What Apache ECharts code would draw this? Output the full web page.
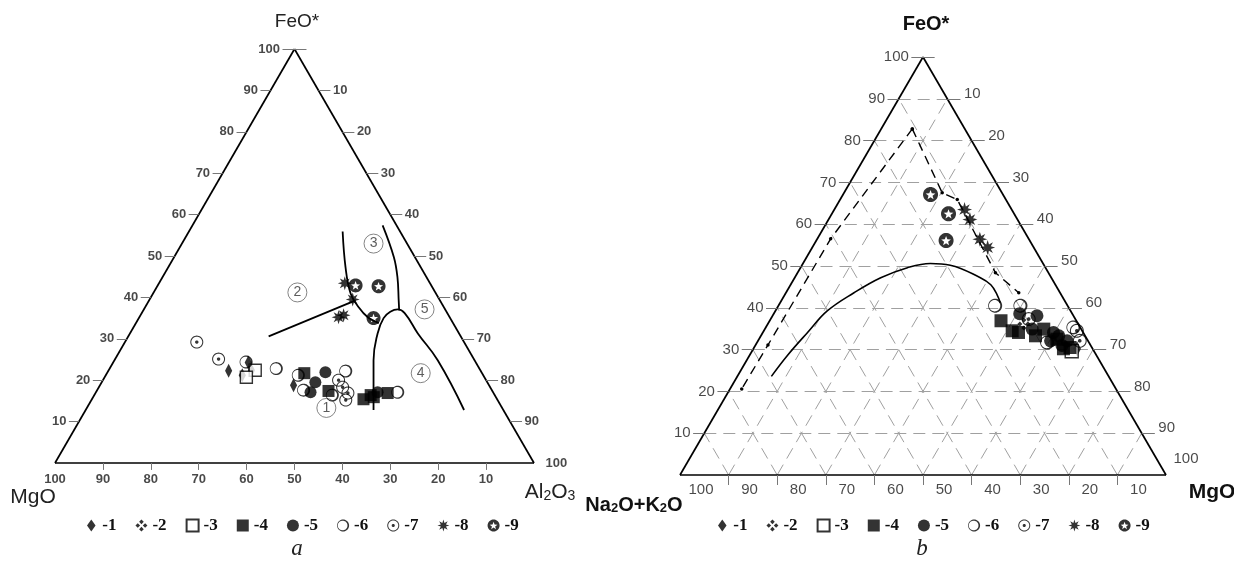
<!DOCTYPE html>
<html><head><meta charset="utf-8">
<script src="https://cdn.jsdelivr.net/npm/echarts@6/dist/echarts.min.js"></script>
<style>html,body{margin:0;padding:0;background:#fff}#c{width:1234px;height:562px}</style>
</head><body><div id="c"></div>
<script>
// ===== Diagram a : FeO* (top) – MgO (left) – Al2O3 (right); points as [FeO*, Al2O3] (MgO = rest)
const aNames = ['-1','-2','-3','-4','-5','-6','-7','-8','-9'];
const aT1 = [[22.3,25.1],[24.3,28.2],[21.2,28.5],[22.4,29.8],[18.8,40.4]];
const aT3 = [[22.4,30.6],[20.7,29.6]];
const aT4 = [[21.7,41.2],[17.4,48.4],[15.4,56.7],[16.4,57.7],[16.9,61.0],[15.9,58.6]];
const aT5 = [[21.9,45.5],[19.5,44.6],[17.1,44.8],[17.1,58.8]];
const aT6 = [[24.4,27.7],[22.8,34.8],[21.2,40.2],[22.2,49.6],[17.6,43.1],[16.4,49.7],[17.1,63.0]];
const aT7 = [[29.2,15.0],[25.1,21.6],[20.0,49.2],[18.3,50.9],[16.9,52.7],[15.2,53.1]];
const aT8 = [[43.4,38.8],[39.5,42.4],[35.2,41.6],[35.7,42.4]];
const aT9 = [[42.9,41.3],[42.7,46.2],[35.0,49.0]];
const aZones = [[13.3,50.0,'1'],[41.2,30.0,'2'],[53.0,40.0,'3'],[21.7,65.5,'4'],[37.1,58.6,'5']];
const aLine1 = [[30.6,29.3],[39.3,43.1]];
const aCurve1 = [[55.9,32.1],[47.3,37.0],[41.0,41.2],[37.6,44.6],[35.2,47.7],[33.8,50.7]];
const aCurve2 = [[57.4,39.7],[49.7,45.9],[44.8,49.1],[39.3,52.1],[36.9,53.4]];
const aArch = [[12.8,60.1],[24.8,54.1],[31.3,51.7],[35.0,51.1],[36.6,51.8],[37.1,53.0],[36.2,54.9],[31.3,60.1],[24.8,67.5],[12.8,79.0]];

// ===== Diagram b : FeO* (top) – Na2O+K2O (left) – MgO (right); points as [FeO*, MgO]
const bT1 = [[30.2,66.6]];
const bT2 = [[36.1,52.7]];
const bT3 = [[29.6,65.8]];
const bT4 = [[36.9,47.6],[34.5,51.1],[34.1,52.6],[34.9,57.4],[33.3,56.5],[30.2,63.8],[30.5,65.0],[32.5,61.3]];
const bT5 = [[38.6,50.6],[38.1,54.4],[34.9,55.0],[34.1,59.8],[32.1,60.2],[33.3,61.3],[32.1,63.6],[31.0,63.1]];
const bT6 = [[40.5,44.6],[40.5,49.8],[31.7,59.7],[35.3,63.3]];
const bT7 = [[37.3,53.1],[34.5,64.4],[32.1,66.2]];
const bT8 = [[63.5,26.8],[61.1,29.1],[56.4,33.5],[54.4,36.1]];
const bT9 = [[67.1,18.0],[62.5,24.0],[56.1,26.7]];
const bDashL = [[82.8,6.4],[56.5,2.75],[31.1,2.55],[20.6,2.4]];
const bDashR = [[82.8,6.4],[67.5,20.2],[65.9,24.1],[48.4,40.7],[43.6,47.9]];
const bCurve = [[23.6,7.0],[28.6,7.8],[34.1,9.2],[39.3,10.7],[43.6,14.0],[47.2,17.7],[49.6,22.0],[50.6,26.2],[50.2,30.5],[47.2,38.2],[45.5,41.2],[43.1,43.7],[41.2,45.3]];

const ticks = [10,20,30,40,50,60,70,80,90];
const bottomLabels = [100,90,80,70,60,50,40,30,20,10];

// ---------- helpers ----------
const S = Math.sqrt(3)/2;
const tern = (F, R) => [R + F/2, F*S];
function poly(p){return 'M'+p.map(q=>q[0].toFixed(2)+' '+q[1].toFixed(2)).join(' L')+' Z ';}
function circ(cx,cy,r,rev){const p=[];for(let i=0;i<40;i++){const t=(rev?-1:1)*i/40*2*Math.PI;p.push([cx+r*Math.cos(t),cy+r*Math.sin(t)]);}return poly(p);}
function star(cx,cy,R,r,n,rev){const p=[];for(let i=0;i<2*n;i++){const t=(rev?-1:1)*i*Math.PI/n-Math.PI/2;const rr=i%2?r:R;p.push([cx+rr*Math.cos(t),cy+rr*Math.sin(t)]);}return poly(p);}
function dia(cx,cy,h){return poly([[cx,cy-h],[cx+h,cy],[cx,cy+h],[cx-h,cy]]);}
const SYM = {
  '-1':'path://M5 0 L10 7 L5 14 L0 7 Z',
  '-2':'path://'+dia(10,4,3.8)+dia(16,10,3.8)+dia(10,16,3.8)+dia(4,10,3.8),
  '-3':'rect','-4':'rect','-5':'circle',
  '-6':'path://'+circ(10,10,10,false)+circ(9.2,10,8.1,true),
  '-7':'path://'+circ(10,10,10,false)+circ(10,10,8.4,true)+circ(10,10,2.6,false),
  '-8':'path://'+star(10,10,10,4.6,8,false),
  '-9':'path://'+circ(10,10,10,false)+star(10,10.7,6.8,2.8,5,true)
};
const COL = {'-3':{color:'#fff',borderColor:'#000',borderWidth:1.4}};
const SZ_A = {'-1':[10,14],'-2':12,'-3':12,'-4':12,'-5':12,'-6':13,'-7':13,'-8':14,'-9':14};
const SZ_B = {'-1':[11,15],'-2':13,'-3':13,'-4':13,'-5':13,'-6':14,'-7':14,'-8':15,'-9':15};

const series = [];
function segs(g, list, style, z){
  series.push({type:'lines',coordinateSystem:'cartesian2d',xAxisIndex:g,yAxisIndex:g,clip:false,silent:true,z:z||1,
    lineStyle:Object.assign({opacity:1},style),data:list.map(c=>({coords:c}))});
}
function curve(g, pts, style, smooth, dots){
  series.push({type:'line',xAxisIndex:g,yAxisIndex:g,clip:false,silent:true,z:3,smooth:smooth,
    symbol:dots?'circle':'none',symbolSize:3.5,showSymbol:!!dots,itemStyle:{color:'#000'},
    lineStyle:style,data:pts.map(p=>tern(p[0],p[1]))});
}
function labels(g, pts, lab){
  series.push({type:'scatter',xAxisIndex:g,yAxisIndex:g,clip:false,silent:true,z:4,symbolSize:1,
    itemStyle:{color:'rgba(0,0,0,0)'},data:pts,
    label:Object.assign({show:true,formatter:p=>String(p.value[2])},lab)});
}
function points(g, name, arr, sizes){
  series.push({type:'scatter',name:name,xAxisIndex:g,yAxisIndex:g,clip:false,z:6,
    symbol:SYM[name],symbolSize:sizes[name],symbolKeepAspect:true,
    itemStyle:COL[name]||{color:'#000'},data:arr.map(p=>tern(p[0],p[1]))});
}

// ---------- diagram a ----------
const tickA = {color:'#777',width:1};
const fontA = {fontFamily:'Liberation Sans, Arial, sans-serif',fontWeight:'bold',fontSize:13,color:'#1a1a1a'};
segs(0,[[tern(100,0),tern(0,0)],[tern(0,0),tern(0,100)],[tern(0,100),tern(100,0)]],{color:'#000',width:1.7},2);
const aTk=[], aL=[], aR=[], aB=[];
ticks.forEach(F=>{const p=tern(F,0);aTk.push([[p[0]-2.1,p[1]],p]);aL.push([p[0]-2.1,p[1],F]);});
ticks.forEach(F=>{const p=tern(F,100-F);aTk.push([p,[p[0]+2.5,p[1]]]);aR.push([p[0]+2.5,p[1],100-F]);});
{const p=tern(100,0);aTk.push([[p[0]-2.5,p[1]],[p[0]+2.5,p[1]]]);aL.push([p[0]-2.5,p[1],100]);}
ticks.forEach(R=>{aTk.push([[R,0],[R,-1.45]]);});
bottomLabels.forEach(v=>aB.push([100-v,0,v]));
segs(0,aTk,tickA,2);
labels(0,aL,Object.assign({position:'left',distance:2},fontA));
labels(0,aR,Object.assign({position:'right',distance:2},fontA));
labels(0,[[100,0,100]],Object.assign({position:'right',distance:11},fontA));
labels(0,aB,Object.assign({position:'bottom',distance:9},fontA));
const lineA={color:'#000',width:1.8};
curve(0,aLine1,lineA,false);
curve(0,aCurve1,lineA,0.4);
curve(0,aCurve2,lineA,0.4);
curve(0,aArch,lineA,0.45);
series.push({type:'scatter',xAxisIndex:0,yAxisIndex:0,clip:false,silent:true,z:5,symbol:'circle',symbolSize:19,
  itemStyle:{color:'#fff',borderColor:'#666',borderWidth:1},data:aZones.map(z=>tern(z[0],z[1]).concat([z[2]])),
  label:{show:true,position:'inside',formatter:p=>p.value[2],fontFamily:'Liberation Sans, Arial',fontSize:14,color:'#333'}});
[['-1',aT1],['-3',aT3],['-4',aT4],['-5',aT5],['-6',aT6],['-7',aT7],['-8',aT8],['-9',aT9]].forEach(([n,d])=>points(0,n,d,SZ_A));

// ---------- diagram b ----------
const gridB = [];
ticks.forEach(k=>{
  gridB.push([tern(k,0),tern(k,100-k)]);
  gridB.push([tern(0,k),tern(100-k,k)]);
  gridB.push([tern(0,100-k),tern(100-k,0)]);
});
segs(1,gridB,{color:'#a0a0a0',width:1,type:[12,7]},1);
segs(1,[[tern(100,0),tern(0,0)],[tern(0,0),tern(0,100)],[tern(0,100),tern(100,0)]],{color:'#000',width:1.7},2);
const fontB = {fontFamily:'Liberation Sans, Arial, sans-serif',fontSize:15,color:'#1a1a1a'};
const bTk=[], bL=[], bR=[], bB=[];
ticks.forEach(F=>{const p=tern(F,0);bTk.push([[p[0]-2.3,p[1]],p]);bL.push([p[0]-2.3,p[1],F]);});
ticks.forEach(F=>{const p=tern(F,100-F);bTk.push([p,[p[0]+2.7,p[1]]]);bR.push([p[0]+2.7,p[1],100-F]);});
{const p=tern(100,0);bTk.push([[p[0]-2.4,p[1]],[p[0]+2.4,p[1]]]);bL.push([p[0]-2.4,p[1],100]);}
ticks.forEach(R=>{bTk.push([[R,0],[R,-2.07]]);});
bottomLabels.forEach(v=>bB.push([100-v,0,v]));
segs(1,bTk,{color:'#777',width:1},2);
labels(1,bL,Object.assign({position:'left',distance:2},fontB));
labels(1,bR,Object.assign({position:'right',distance:3,offset:[0,-5]},fontB));
labels(1,[[100,0,100]],Object.assign({position:'right',distance:7,offset:[0,-16]},fontB));
labels(1,bB,Object.assign({position:'bottom',distance:7,offset:[21,0]},fontB));
curve(1,bDashL,{color:'#000',width:1.4,type:[9,6]},false,true);
curve(1,bDashR,{color:'#000',width:1.4,type:[9,6]},false,true);
curve(1,bCurve,{color:'#000',width:1.6},0.4);
[['-1',bT1],['-2',bT2],['-3',bT3],['-4',bT4],['-5',bT5],['-6',bT6],['-7',bT7],['-8',bT8],['-9',bT9]].forEach(([n,d])=>points(1,n,d,SZ_B));

const legendBase = {data:aNames,orient:'horizontal',itemWidth:12,itemHeight:12,itemGap:19,selectedMode:false,
  textStyle:{fontFamily:'Liberation Serif, Times New Roman, serif',fontWeight:'bold',fontSize:17,color:'#111'}};

const hidden = {show:false};
const option = {
  animation:false,
  backgroundColor:'#fff',
  grid:[{left:55,top:49,width:479,height:414},{left:680,top:57,width:486,height:418}],
  xAxis:[Object.assign({type:'value',min:0,max:100,gridIndex:0},hidden),Object.assign({type:'value',min:0,max:100,gridIndex:1},hidden)],
  yAxis:[Object.assign({type:'value',min:0,max:100*S,gridIndex:0},hidden),Object.assign({type:'value',min:0,max:100*S,gridIndex:1},hidden)],
  legend:[Object.assign({left:82,top:512},legendBase),Object.assign({left:713,top:512},legendBase)],
  graphic:[
    {type:'text',x:297,y:22,style:{text:'FeO*',font:'19px Liberation Sans, Arial',fill:'#222',textAlign:'center',textVerticalAlign:'middle'}},
    {type:'text',x:33,y:497,style:{text:'MgO',font:'21px Liberation Sans, Arial',fill:'#222',textAlign:'center',textVerticalAlign:'middle'}},
    {type:'text',x:550,y:491,style:{text:'{n|Al}{s|2}{n|O}{s|3}',textAlign:'center',textVerticalAlign:'middle',
      rich:{n:{fontFamily:'Liberation Sans, Arial',fontSize:21,fill:'#222',verticalAlign:'bottom',lineHeight:24},s:{fontFamily:'Liberation Sans, Arial',fontSize:14,fill:'#222',verticalAlign:'bottom',lineHeight:21}}}},
    {type:'text',x:926,y:24,style:{text:'FeO*',font:'bold 20px Liberation Sans, Arial',fill:'#111',textAlign:'center',textVerticalAlign:'middle'}},
    {type:'text',x:634,y:503,style:{text:'{n|Na}{s|2}{n|O+K}{s|2}{n|O}',textAlign:'center',textVerticalAlign:'middle',
      rich:{n:{fontFamily:'Liberation Sans, Arial',fontWeight:'bold',fontSize:20,fill:'#111',verticalAlign:'bottom',lineHeight:24},s:{fontFamily:'Liberation Sans, Arial',fontWeight:'bold',fontSize:13,fill:'#111',verticalAlign:'bottom',lineHeight:21}}}},
    {type:'text',x:1212,y:492,style:{text:'MgO',font:'bold 21px Liberation Sans, Arial',fill:'#111',textAlign:'center',textVerticalAlign:'middle'}},
    {type:'text',x:297,y:549,style:{text:'a',font:'italic 23px Liberation Serif, Times New Roman',fill:'#222',textAlign:'center',textVerticalAlign:'middle'}},
    {type:'text',x:922,y:549,style:{text:'b',font:'italic 23px Liberation Serif, Times New Roman',fill:'#222',textAlign:'center',textVerticalAlign:'middle'}}
  ],
  series:series
};
const chart = echarts.init(document.getElementById('c'),null,{renderer:'canvas'});
chart.setOption(option);
</script></body></html>
